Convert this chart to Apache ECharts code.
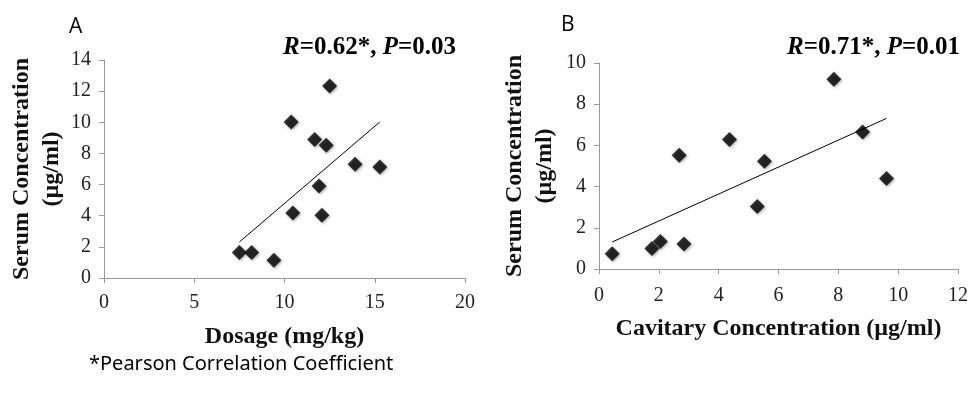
<!DOCTYPE html>
<html><head><meta charset="utf-8">
<script src="https://cdn.jsdelivr.net/npm/echarts@6/dist/echarts.min.js"></script>
<style>html,body{margin:0;padding:0;background:#fff}#c{width:971px;height:402px}</style>
</head><body><div id="c"></div>
<script>
// Panel A: Dosage (mg/kg) vs Serum Concentration (µg/ml)
const dosageA = [7.5, 8.18, 9.41, 10.37, 10.46, 11.67, 11.91, 12.07, 12.31, 12.5, 13.91, 15.28];
const serumA  = [1.63, 1.63, 1.14, 10.02, 4.17, 8.89, 5.91, 4.03, 8.52, 12.33, 7.30, 7.13];
const trendAX = [7.5, 15.28];
const trendAY = [2.31, 10.02];
const xTicksA = {min: 0, max: 20, interval: 5};
const yTicksA = {min: 0, max: 14, interval: 2};
const statA = ['R', '=0.62*, ', 'P', '=0.03'];

// Panel B: Cavitary Concentration vs Serum Concentration (µg/ml)
const cavB   = [0.44, 1.77, 2.05, 2.68, 2.84, 4.36, 5.29, 5.53, 7.85, 8.81, 9.61];
const serumB = [0.74, 1.0, 1.34, 5.52, 1.21, 6.29, 3.03, 5.23, 9.21, 6.65, 4.39];
const trendBX = [0.44, 9.61];
const trendBY = [1.31, 7.31];
const xTicksB = {min: 0, max: 12, interval: 2};
const yTicksB = {min: 0, max: 10, interval: 2};
const statB = ['R', '=0.71*, ', 'P', '=0.01'];

const serif = 'Liberation Serif';
const axisColor = '#999';
const labelColor = '#222';

function zip(a, b) { return a.map((v, i) => [v, b[i]]); }

function makeX(idx, t, name, gap, margin) {
  return {
    type: 'value', gridIndex: idx, min: t.min, max: t.max, interval: t.interval,
    name: name, nameLocation: 'middle', nameGap: gap,
    nameTextStyle: {fontFamily: serif, fontWeight: 'bold', fontSize: 24, color: '#111'},
    axisLine: {show: true, lineStyle: {color: axisColor, width: 1}},
    axisTick: {show: true, length: 5, lineStyle: {color: axisColor}},
    axisLabel: {fontFamily: serif, fontSize: 20, color: labelColor, margin: margin},
    splitLine: {show: false}
  };
}
function makeY(idx, t, gap) {
  return {
    type: 'value', gridIndex: idx, min: t.min, max: t.max, interval: t.interval,
    name: 'Serum Concentration\n(µg/ml)', nameLocation: 'middle', nameGap: gap,
    nameTextStyle: {fontFamily: serif, fontWeight: 'bold', fontSize: 24, color: '#111', lineHeight: 30},
    axisLine: {show: true, lineStyle: {color: axisColor, width: 1}},
    axisTick: {show: true, length: 5, lineStyle: {color: axisColor}},
    axisLabel: {fontFamily: serif, fontSize: 20, color: labelColor, margin: 13},
    splitLine: {show: false}
  };
}
function scatter(idx, data) {
  return {
    type: 'scatter', xAxisIndex: idx, yAxisIndex: idx, data: data,
    symbol: 'diamond', symbolSize: [15, 15],
    itemStyle: {color: '#000', shadowBlur: 3, shadowColor: 'rgba(0,0,0,0.45)', shadowOffsetX: 1, shadowOffsetY: 1},
    z: 3
  };
}
function trend(idx, data) {
  return {
    type: 'line', xAxisIndex: idx, yAxisIndex: idx, data: data,
    symbol: 'none', lineStyle: {color: '#000', width: 1}, z: 2
  };
}
function statTitle(s, right, top) {
  return {
    text: '{i|' + s[0] + '}{b|' + s[1] + '}{i|' + s[2] + '}{b|' + s[3] + '}',
    right: right, top: top,
    textStyle: {
      rich: {
        i: {fontFamily: serif, fontWeight: 'bold', fontStyle: 'italic', fontSize: 25, color: '#000'},
        b: {fontFamily: serif, fontWeight: 'bold', fontSize: 25, color: '#000'}
      }
    }
  };
}

const chart = echarts.init(document.getElementById('c'));
chart.setOption({
  animation: false,
  title: [
    {text: 'A', left: 64, top: 12, textStyle: {fontFamily: 'Open Sans', fontWeight: 'normal', fontSize: 21, color: '#000'}},
    {text: 'B', left: 556, top: 10, textStyle: {fontFamily: 'Open Sans', fontWeight: 'normal', fontSize: 21, color: '#000'}},
    statTitle(statA, 510, 30),
    statTitle(statB, 6, 30),
    {text: '*Pearson Correlation Coefficient', left: 84, top: 349, textStyle: {fontFamily: 'Noto Sans', fontWeight: 'normal', fontSize: 20, color: '#000'}}
  ],
  grid: [
    {left: 104, right: 506, top: 60, bottom: 124},
    {left: 599, right: 10, top: 63, bottom: 133}
  ],
  xAxis: [makeX(0, xTicksA, 'Dosage (mg/kg)', 47, 15), makeX(1, xTicksB, 'Cavitary Concentration (µg/ml)', 48, 17)],
  yAxis: [makeY(0, yTicksA, 37), makeY(1, yTicksB, 39)],
  series: [
    trend(0, zip(trendAX, trendAY)),
    scatter(0, zip(dosageA, serumA)),
    trend(1, zip(trendBX, trendBY)),
    scatter(1, zip(cavB, serumB))
  ]
});
</script></body></html>
